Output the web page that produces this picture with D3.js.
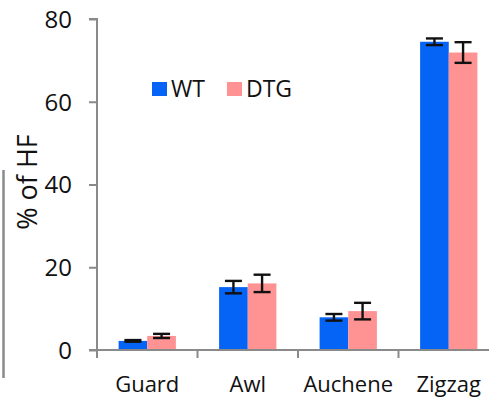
<!DOCTYPE html>
<html>
<head>
<meta charset="utf-8">
<script src="https://cdn.jsdelivr.net/npm/d3@7"></script>
<style>
  html, body { margin: 0; padding: 0; background: #fff; }
  svg { display: block; }
  text { font-family: "Open Sans", "Liberation Sans", sans-serif; fill: #111; }
</style>
</head>
<body>
<svg id="chart" width="489" height="399"></svg>
<script>
// Hair-follicle type proportions (% of HF), mean ± error
const categories = ["Guard", "Awl", "Auchene", "Zigzag"];
const seriesNames = ["WT", "DTG"];
const wtValues = [2.2, 15.2, 7.9, 74.5];
const wtErrors = [0.2, 1.5, 0.8, 0.8];
const dtgValues = [3.4, 16.1, 9.4, 71.9];
const dtgErrors = [0.5, 2.1, 2.0, 2.5];
const yTicks = [0, 20, 40, 60, 80];
const colors = ["#0563f5", "#ff9393"];

const series = [
  { name: seriesNames[0], values: wtValues, errors: wtErrors, color: colors[0] },
  { name: seriesNames[1], values: dtgValues, errors: dtgErrors, color: colors[1] }
];

const svg = d3.select("#chart");
const axisColor = "#8a8a8a";

const x = d3.scaleBand().domain(categories).range([97, 499])
  .paddingInner(0.43).paddingOuter(0.215);
const xSub = d3.scaleBand().domain(seriesNames).range([0, x.bandwidth()]);
const y = d3.scaleLinear().domain([0, 80]).range([350, 19]);

// panel border fragment at the left edge
svg.append("line")
  .attr("x1", 3.5).attr("x2", 3.5).attr("y1", 170).attr("y2", 378)
  .attr("stroke", "#8a8a8a").attr("stroke-width", 2.5);

// bars
const groups = svg.append("g").selectAll("g")
  .data(series).join("g");

groups.selectAll("rect")
  .data(s => s.values.map((v, i) => ({ cat: categories[i], v, e: s.errors[i], s })))
  .join("rect")
  .attr("x", d => x(d.cat) + xSub(d.s.name))
  .attr("y", d => y(d.v))
  .attr("width", xSub.bandwidth())
  .attr("height", d => y(0) - y(d.v))
  .attr("fill", d => d.s.color);

// error bars
const errG = svg.append("g").attr("stroke", "#111").attr("stroke-width", 2.4);
series.forEach(s => {
  s.values.forEach((v, i) => {
    const cx = x(categories[i]) + xSub(s.name) + xSub.bandwidth() / 2;
    const e = s.errors[i];
    const capW = 8.5;
    errG.append("line").attr("x1", cx).attr("x2", cx)
      .attr("y1", y(v + e)).attr("y2", y(v - e));
    errG.append("line").attr("x1", cx - capW).attr("x2", cx + capW)
      .attr("y1", y(v + e)).attr("y2", y(v + e));
    errG.append("line").attr("x1", cx - capW).attr("x2", cx + capW)
      .attr("y1", y(v - e)).attr("y2", y(v - e));
  });
});

// y axis
const yAxis = svg.append("g").attr("transform", "translate(97,0)")
  .call(d3.axisLeft(y).tickValues(yTicks).tickSize(8).tickPadding(17).tickFormat(d3.format("d")));
yAxis.select(".domain").attr("stroke", axisColor).attr("stroke-width", 2)
  .attr("d", "M-8,19H0V350");
yAxis.selectAll(".tick line").attr("stroke", axisColor).attr("stroke-width", 2);
yAxis.selectAll(".tick text").attr("font-size", 24).attr("fill", "#111")
  .attr("font-family", "'Open Sans', sans-serif").attr("dy", "0.35em");

// x axis
const bounds = [97, 197.5, 298, 398.5, 499];
const xAxis = svg.append("g");
xAxis.append("line").attr("x1", 89).attr("x2", 489).attr("y1", 350).attr("y2", 350)
  .attr("stroke", axisColor).attr("stroke-width", 2);
xAxis.selectAll("line.tk").data(bounds).join("line").attr("class", "tk")
  .attr("x1", d => d).attr("x2", d => d).attr("y1", 350).attr("y2", 358)
  .attr("stroke", axisColor).attr("stroke-width", 2);
xAxis.selectAll("text").data(categories).join("text")
  .attr("x", d => x(d) + x.bandwidth() / 2)
  .attr("y", 392)
  .attr("text-anchor", "middle")
  .attr("font-size", 22)
  .text(d => d);

// y label
svg.append("text")
  .attr("transform", "translate(37,182) rotate(-90)")
  .attr("text-anchor", "middle")
  .attr("font-size", 27)
  .text("% of HF");

// legend
const legend = svg.append("g");
const legendItems = [
  { name: seriesNames[0], color: colors[0], x: 152 },
  { name: seriesNames[1], color: colors[1], x: 227 }
];
legendItems.forEach(it => {
  legend.append("rect").attr("x", it.x).attr("y", 82).attr("width", 15).attr("height", 14)
    .attr("fill", it.color);
  legend.append("text").attr("x", it.x + 19).attr("y", 97).attr("font-size", 23).text(it.name);
});
</script>
</body>
</html>
